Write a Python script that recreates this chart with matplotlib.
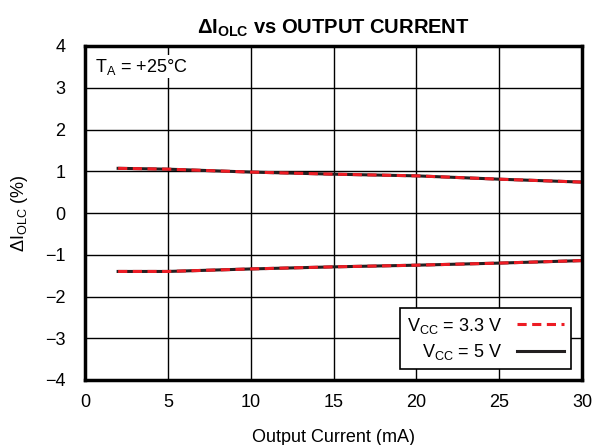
import matplotlib.pyplot as plt
import numpy as np

plt.rcParams['font.family'] = ['Liberation Sans', 'DejaVu Sans']
plt.rcParams['mathtext.fontset'] = 'custom'
plt.rcParams['mathtext.rm'] = 'Liberation Sans'
plt.rcParams['mathtext.bf'] = 'Liberation Sans:bold'

# datos
corriente = [2, 5, 10, 15, 20, 25, 30]
alto_33 = [1.07, 1.05, 0.98, 0.93, 0.89, 0.81, 0.74]
alto_5 = [1.07, 1.05, 0.98, 0.93, 0.89, 0.81, 0.74]
bajo_33 = [-1.40, -1.40, -1.34, -1.29, -1.25, -1.20, -1.14]
bajo_5 = [-1.40, -1.40, -1.34, -1.29, -1.25, -1.20, -1.14]

fig = plt.figure(figsize=(5.95, 4.45), dpi=100)
ax = fig.add_axes([85/595, 1-380/445, 497/595, 334/445])

ax.plot(corriente, alto_5, color='#231f20', lw=2.2, label='$\\mathregular{V_{CC}}$ = 5 V')
ax.plot(corriente, bajo_5, color='#231f20', lw=2.2)
ax.plot(corriente, alto_33, color='#ed1c24', lw=2.2, ls=(0, (3, 1.8)), label='$\\mathregular{V_{CC}}$ = 3.3 V')
ax.plot(corriente, bajo_33, color='#ed1c24', lw=2.2, ls=(0, (3, 1.8)))

ax.set_xlim(0, 30)
ax.set_ylim(-4, 4)
ax.set_xticks(np.arange(0, 31, 5))
ax.set_yticks(np.arange(-4, 5, 1))
ax.set_yticklabels(['\u22124', '\u22123', '\u22122', '\u22121', '0', '1', '2', '3', '4'])
ax.tick_params(length=0, labelsize=13, pad=10)
ax.tick_params(axis='y', pad=14)
ax.grid(True, color='black', lw=1.0)
for s in ax.spines.values():
    s.set_linewidth(2.5)

ax.set_title('$\\mathbf{\\Delta I_{OLC}}$ vs OUTPUT CURRENT', fontsize=14.5, fontweight='bold', pad=9)
ax.set_xlabel('Output Current (mA)', fontsize=13, labelpad=13)
ax.set_ylabel('$\\mathregular{\\Delta I_{OLC}}$ (%)', fontsize=13, labelpad=11)

ax.text(0.6, 3.5, '$\\mathregular{T_A}$ = +25\u00b0C', fontsize=13, va='center', ha='left',
        bbox=dict(facecolor='white', edgecolor='none', pad=1))

h, l = ax.get_legend_handles_labels()
leg = ax.legend(h[::-1], l[::-1], loc='lower right', markerfirst=False, fontsize=13,
                fancybox=False, framealpha=1, edgecolor='black', handlelength=2.6,
                borderaxespad=0.6, labelspacing=0.35)
leg.get_frame().set_linewidth(1.2)

fig.savefig('out.png', dpi=100)
